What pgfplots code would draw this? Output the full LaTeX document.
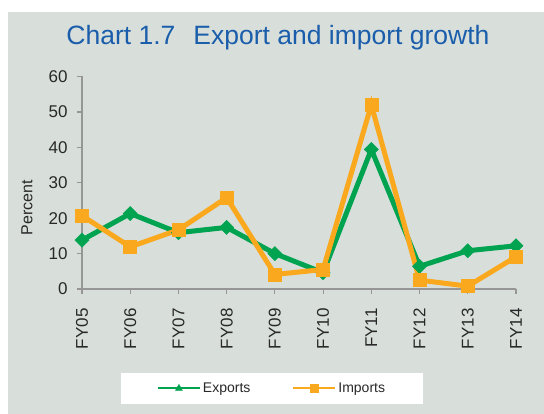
\documentclass[border=0pt]{standalone}
\usepackage{fontspec}
\setmainfont{Liberation Sans}
\usepackage{pgfplots}
\pgfplotsset{compat=1.18}
\definecolor{bg}{RGB}{216,223,219}
\definecolor{ttl}{RGB}{26,93,171}
\definecolor{expc}{RGB}{0,163,80}
\definecolor{impc}{RGB}{250,168,30}
\definecolor{axc}{RGB}{150,150,150}
\definecolor{txt}{RGB}{40,40,40}
\begin{document}
\begin{tikzpicture}[x=1pt,y=1pt]
\path[use as bounding box] (0,0) rectangle (544,414);
\fill[bg] (8,0) rectangle (544,402);
\node[text=ttl, font=\fontsize{26.5}{30}\selectfont] at (278,376) {Chart 1.7\hspace{18pt}Export and import growth};
\begin{axis}[
  at={(82pt,125pt)}, anchor=south west,
  scale only axis, width=434pt, height=212.5pt,
  xmin=0, xmax=9, ymin=0, ymax=60,
  xtick={0,...,9}, ytick={0,10,...,60},
  xticklabels={FY05,FY06,FY07,FY08,FY09,FY10,FY11,FY12,FY13,FY14},
  axis x line*=bottom, axis y line*=left,
  axis line style={axc, line width=1.2pt},
  every tick/.style={axc, line width=1.2pt},
  tick align=outside, major tick length=5pt,
  /pgf/number format/assume math mode=true,
  tick label style={text=txt, font=\fontsize{17}{20}\selectfont},
  xticklabel style={rotate=90, anchor=east, xshift=-11pt},
  yticklabel style={xshift=-6pt},
  ylabel={Percent},
  ylabel style={at={(axis description cs:-0.1267,0.3835)}, anchor=center, font=\fontsize{16}{19}\selectfont, text=txt},
  clip=false,
  legend columns=2,
  legend style={at={(rel axis cs:0.4378,-0.468)}, anchor=center, fill=white, draw=none,
     inner xsep=36pt, inner ysep=8pt, font=\fontsize{14}{16}\selectfont, text=txt,
     /tikz/every even column/.append style={column sep=40pt}},
  legend image code/.code={\draw[mark repeat=2,mark phase=2] plot coordinates {(0pt,0pt) (21pt,0pt) (42pt,0pt)};},
]
\addplot[expc, line width=5pt, mark=square*, mark size=5pt, mark options={rotate=45, line width=0.5pt}, forget plot]
  coordinates {(0,13.8) (1,21.3) (2,15.9) (3,17.4) (4,10.0) (5,4.6) (6,39.4) (7,6.4) (8,10.8) (9,12.2)};
\addplot[impc, line width=5pt, mark=square*, mark size=6.5pt, mark options={line width=0.5pt}, forget plot]
  coordinates {(0,20.7) (1,11.9) (2,16.7) (3,25.8) (4,4.1) (5,5.5) (6,52.0) (7,2.5) (8,0.8) (9,9.1)};
\addlegendimage{expc, line width=2pt, mark=triangle*, mark size=4pt, mark options={line width=0.5pt}}
\addlegendimage{impc, line width=2pt, mark=square*, mark size=4pt, mark options={line width=0.5pt}}
\legend{Exports, Imports}
\end{axis}
\end{tikzpicture}
\end{document}
